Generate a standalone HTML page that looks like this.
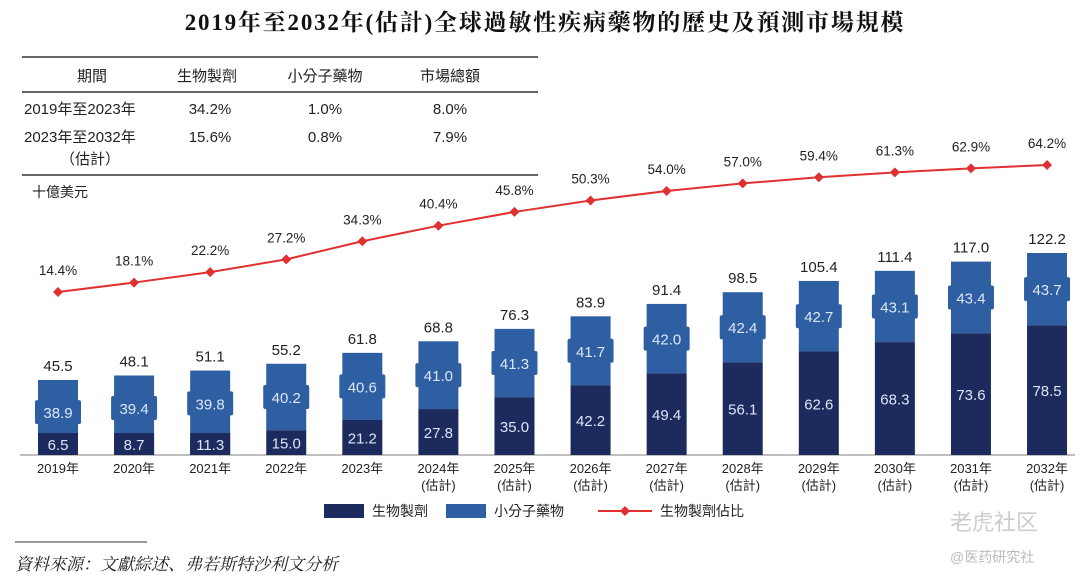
<!DOCTYPE html>
<html><head><meta charset="utf-8"><style>
body{margin:0;background:#fff;font-family:"Liberation Sans","Noto Sans CJK TC",sans-serif;}
svg text{font-family:"Liberation Sans","Noto Sans CJK TC",sans-serif;}
</style></head><body>
<svg id="c" width="1080" height="580" xmlns="http://www.w3.org/2000/svg">
<text x="545" y="30" text-anchor="middle" font-size="23" font-weight="bold" letter-spacing="1.8" fill="#111" style="font-family:'Liberation Serif','Noto Serif CJK SC',serif">2019年至2032年(估計)全球過敏性疾病藥物的歷史及預測市場規模</text>
<g font-size="15" fill="#222">
<line x1="22" y1="57" x2="538" y2="57" stroke="#666" stroke-width="2"/>
<line x1="22" y1="92" x2="538" y2="92" stroke="#666" stroke-width="2"/>
<line x1="22" y1="175" x2="538" y2="175" stroke="#666" stroke-width="2"/>
<text x="92" y="81" text-anchor="middle">期間</text><text x="207" y="81" text-anchor="middle">生物製劑</text><text x="325" y="81" text-anchor="middle">小分子藥物</text><text x="450" y="81" text-anchor="middle">市場總額</text>
<text x="24" y="114">2019年至2023年</text><text x="210" y="114" text-anchor="middle">34.2%</text><text x="325" y="114" text-anchor="middle">1.0%</text><text x="450" y="114" text-anchor="middle">8.0%</text>
<text x="24" y="142">2023年至2032年</text><text x="210" y="142" text-anchor="middle">15.6%</text><text x="325" y="142" text-anchor="middle">0.8%</text><text x="450" y="142" text-anchor="middle">7.9%</text>
<text x="60" y="164">（估計）</text>
</g>
<text x="32" y="197" font-size="14" fill="#222">十億美元</text>
<line x1="20" y1="455" x2="1075" y2="455" stroke="#aaa" stroke-width="1.5"/>
<g id="bars"></g><g id="line"></g><g id="xl"></g>
<g font-size="14" fill="#222">
<rect x="324" y="504" width="40" height="14" fill="#1c2a5e"/><text x="372" y="516">生物製劑</text>
<rect x="446" y="504" width="40" height="14" fill="#2f5fa3"/><text x="494" y="516">小分子藥物</text>
<line x1="598" y1="511" x2="652" y2="511" stroke="#e03030" stroke-width="2"/><path d="M625 506l5 5-5 5-5-5z" fill="#e03030"/><text x="660" y="516">生物製劑佔比</text>
</g>
<line x1="15" y1="542" x2="147" y2="542" stroke="#333" stroke-width="1"/>
<text x="15" y="570" font-size="17" font-style="italic" fill="#222" style="font-family:'Liberation Serif','Noto Serif CJK SC',serif">資料來源：文獻綜述、弗若斯特沙利文分析</text>
<text x="950" y="530" font-size="22" fill="#ccc">老虎社区</text>
<text x="950" y="562" font-size="14" fill="#bbb">@医药研究社</text>
</svg>
<script>
const years=["2019年","2020年","2021年","2022年","2023年","2024年","2025年","2026年","2027年","2028年","2029年","2030年","2031年","2032年"];
const estimated=[0,0,0,0,0,1,1,1,1,1,1,1,1,1];
const biologics=[6.5,8.7,11.3,15.0,21.2,27.8,35.0,42.2,49.4,56.1,62.6,68.3,73.6,78.5];
const smallMol=[38.9,39.4,39.8,40.2,40.6,41.0,41.3,41.7,42.0,42.4,42.7,43.1,43.4,43.7];
const totals=[45.5,48.1,51.1,55.2,61.8,68.8,76.3,83.9,91.4,98.5,105.4,111.4,117.0,122.2];
const share=[14.4,18.1,22.2,27.2,34.3,40.4,45.8,50.3,54.0,57.0,59.4,61.3,62.9,64.2];
const NS="http://www.w3.org/2000/svg";
const xc=i=>58+i*76.08, yv=v=>455-v*1.653, yp=p=>292-(p-14.4)*2.55;
function mk(t,a,p){const e=document.createElementNS(NS,t);for(const k in a)e.setAttribute(k,a[k]);p.appendChild(e);return e;}
const B=document.getElementById('bars'),L=document.getElementById('line'),X=document.getElementById('xl');
years.forEach((y,i)=>{
 const x=xc(i),yb=yv(biologics[i]),yt=yv(biologics[i]+smallMol[i]);
 let r=mk('rect',{x:x-20,y:yt,width:40,height:yb-yt,fill:'#2f5fa3'},B);
 
 const my=(yt+yb)/2;
 mk('rect',{x:x-23,y:my-12,width:46,height:24,rx:2,fill:'#2f5fa3'},B);
 let t=mk('text',{x:x,y:my+6,'text-anchor':'middle','font-size':15,fill:'#dde6f5'},B);t.textContent=smallMol[i].toFixed(1);
 r=mk('rect',{x:x-20,y:yb,width:40,height:455-yb,fill:'#1c2a5e'},B);
 
 if(455-yb<22)mk('rect',{x:x-20,y:433,width:40,height:22,fill:'#1c2a5e'},B);
 t=mk('text',{x:x,y:Math.min((yb+455)/2+6,450),'text-anchor':'middle','font-size':15,fill:'#dde6f5'},B);t.textContent=biologics[i].toFixed(1);
 t=mk('text',{x:x,y:yt-9,'text-anchor':'middle','font-size':15,fill:'#222'},B);t.textContent=totals[i].toFixed(1);
 
 t=mk('text',{x:x,y:473,'text-anchor':'middle','font-size':13,fill:'#222'},X);t.textContent=y;
 
 if(estimated[i]){t=mk('text',{x:x,y:490,'text-anchor':'middle','font-size':13,fill:'#222'},X);t.textContent='(估計)';}
});
let pts=share.map((p,i)=>xc(i)+','+yp(p)).join(' ');
let pl=mk('polyline',{points:pts,fill:'none',stroke:'#e03030','stroke-width':2},L);

share.forEach((p,i)=>{const x=xc(i),y=yp(p);
 mk('path',{d:`M${x} ${y-5}l5 5-5 5-5-5z`,fill:'#e03030'},L);
 const t=mk('text',{x:x,y:y-17,'text-anchor':'middle','font-size':13.5,fill:'#222'},L);t.textContent=p.toFixed(1)+'%';
 
});
</script>
</body></html>
